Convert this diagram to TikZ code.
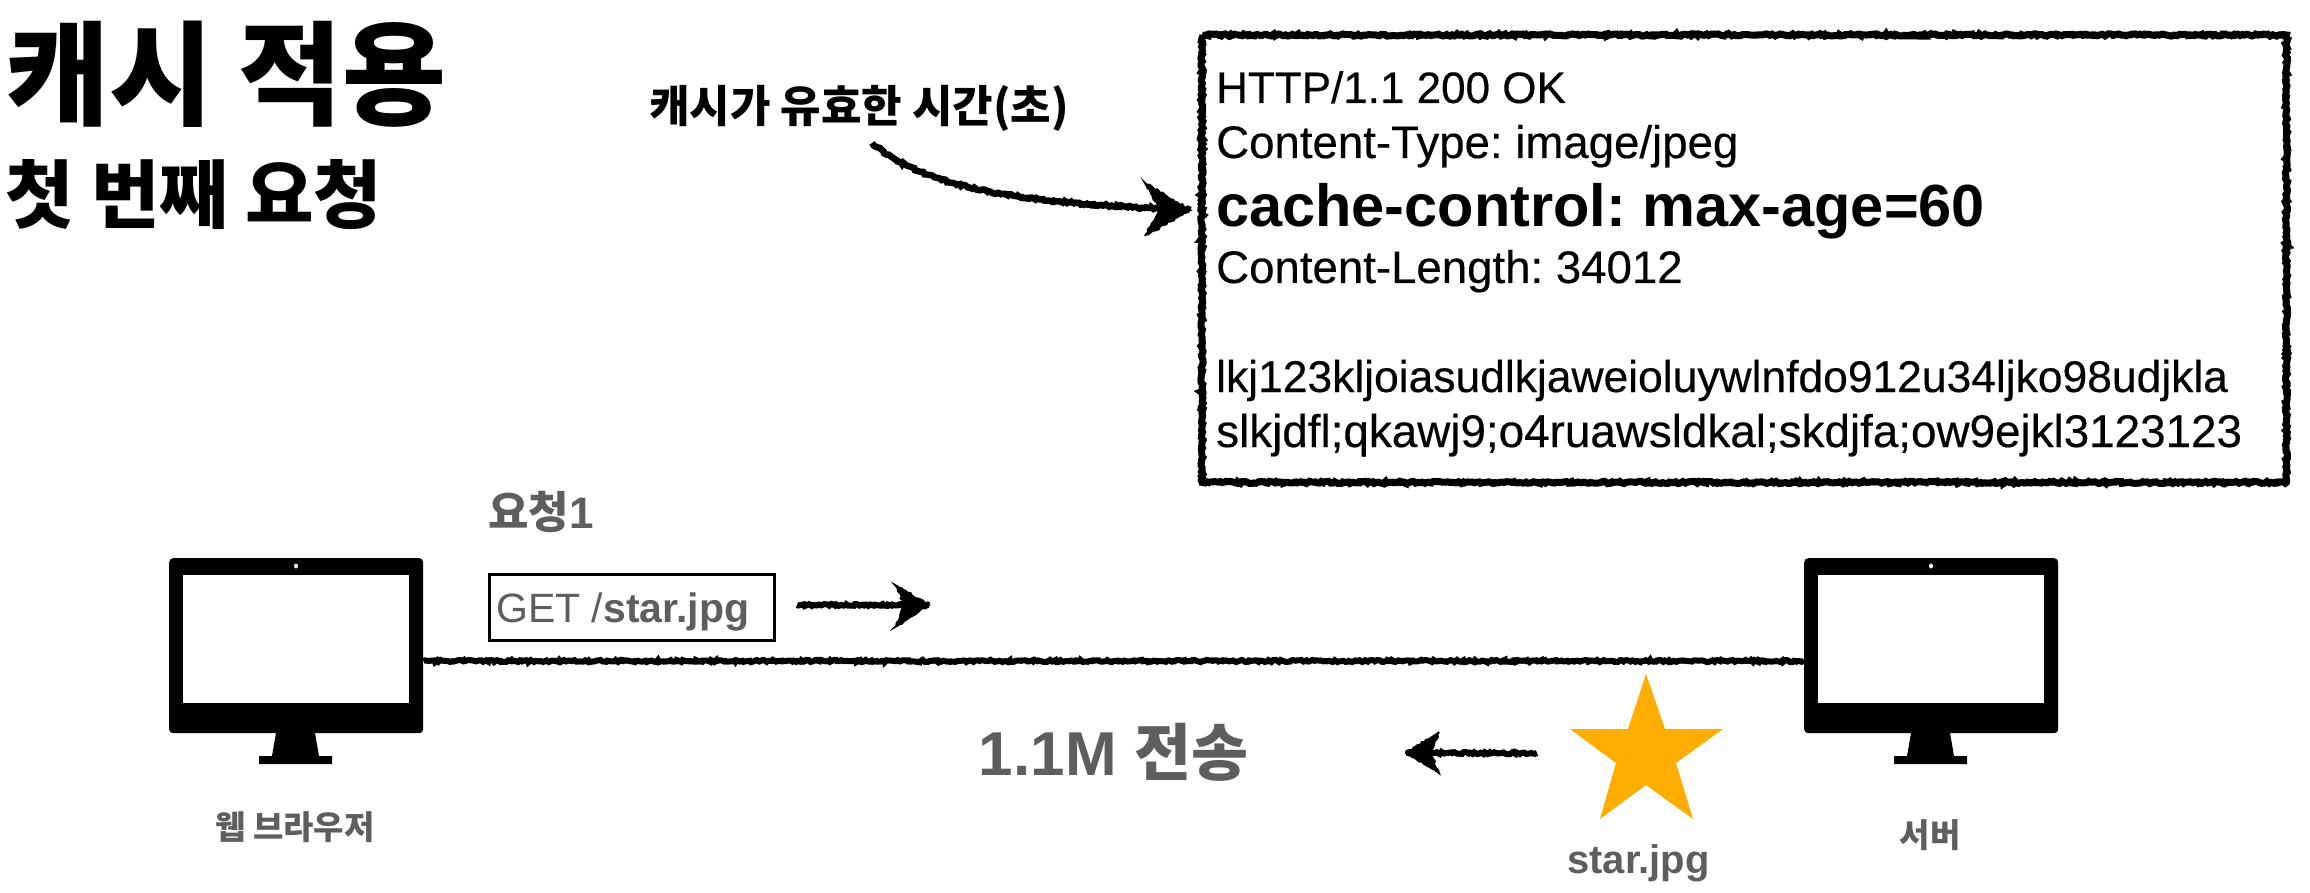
\documentclass[tikz,border=0pt]{standalone}
\usepackage{fontspec}
\setmainfont{Liberation Sans}
\newfontfamily\kr{Noto Sans CJK KR}
\newfontfamily\heavyreg{Liberation Sans}[FakeBold=0.35]
\frenchspacing
\usetikzlibrary{decorations.pathmorphing}
\definecolor{txtgray}{HTML}{5E5E5E}
\definecolor{staryellow}{HTML}{FFAE00}
\newcommand{\fs}[1]{\fontsize{#1}{#1}\selectfont}
\tikzset{
  x=1pt,y=-1pt,
  rough/.style={draw=black,line width=#1,decorate,decoration={random steps,segment length=2pt,amplitude=1.1pt}},
  rough/.default=5pt,
  roughhead/.style={fill=black,draw=black,line width=2pt,line join=miter,decorate,decoration={random steps,segment length=2.5pt,amplitude=1.1pt}},
  monbody/.style={fill=black,rounded corners=4pt,minimum width=254pt,minimum height=175pt,inner sep=0pt,anchor=north west},
  monscreen/.style={fill=white,minimum width=226pt,minimum height=128pt,inner sep=0pt},
  lbl/.style={inner sep=0pt,anchor=base west,text=black},
  glbl/.style={inner sep=0pt,text=txtgray,font=\kr\bfseries},
}
\pgfmathsetseed{42}
\begin{document}
\begin{tikzpicture}
\useasboundingbox (0,0) rectangle (2310,893);
% titles
\node[inner sep=0pt,anchor=center,font={\kr\bfseries\fs{113}}] (title) at (226,74) {캐시 적용};
\node[inner sep=0pt,anchor=center,font={\kr\bfseries\fs{74.5}},align=left] (subtitle) at (194,195) {첫 번째 요청};
\node[inner sep=0pt,anchor=center,font={\kr\bfseries\fs{44}}] (note) at (859,108) {캐시가 유효한 시간(초)};
% response box
\node[inner sep=0pt,minimum width=1084pt,minimum height=447pt,anchor=north west] (resp) at (1202,35) {};
\draw[rough=7pt] (resp.north west) -- (resp.north east) -- (resp.south east) -- (resp.south west) -- cycle;
\node[lbl,font=\heavyreg\fs{44}] (l1) at (1216,103) {HTTP/1.1 200 OK};
\node[lbl,font=\heavyreg\fs{45.6}] (l2) at (1216,158) {Content-Type: image/jpeg};
\node[lbl,font=\bfseries\fs{59.5}] (l3) at (1216,227) {cache-control: max-age=60};
\node[lbl,font=\heavyreg\fs{45.6}] (l4) at (1216,283) {Content-Length: 34012};
\node[lbl,font=\heavyreg\fs{44.4}] (l5) at (1216,392) {lkj123kljoiasudlkjaweioluywlnfdo912u34ljko98udjkla};
\node[lbl,font=\heavyreg\fs{45.8}] (l6) at (1216,447) {slkjdfl;qkawj9;o4ruawsldkal;skdjfa;ow9ejkl3123123};
% curved arrow
\coordinate (ctail) at (872,143);
\coordinate (ctip) at (1190,210);
\draw[rough=6.5pt] (ctail) .. controls (930,192) and (1030,203) .. (ctip);
\draw[roughhead] (1145,183) -- (ctip) -- (1145,236) -- (1160,209) -- cycle;
% browser
\node[monbody] (browser) at (169,558) {};
\node[monscreen] (bscreen) at (296,639) {};
\fill[white] (296,566) ellipse (2pt and 2.5pt);
\fill[black] (276,733) -- (315,733) -- (319,756) -- (332,756) -- (332,764) -- (259,764) -- (259,756) -- (272,756) -- cycle;
\node[glbl,font=\kr\bfseries\fs{33}] (blabel) at (295,827) {웹 브라우저};
% server
\node[monbody] (server) at (1804,558) {};
\node[monscreen] (sscreen) at (1931,639) {};
\fill[white] (1931,566) ellipse (2pt and 2.5pt);
\fill[black] (1911,733) -- (1950,733) -- (1954,756) -- (1967,756) -- (1967,764) -- (1894,764) -- (1894,756) -- (1907,756) -- cycle;
\node[glbl,font=\kr\bfseries\fs{33}] (slabel) at (1930,835) {서버};
% wire
\coordinate (wire) at (0,661);
\draw[rough=6pt] (browser.east |- wire) -- (server.west |- wire);
% request
\node[glbl,font=\kr\bfseries\fs{44}] (req) at (541,512) {요청\fontspec{Liberation Sans}\bfseries 1};
\node[draw=black,line width=3pt,fill=white,minimum width=285pt,minimum height=66pt,inner sep=0pt,anchor=north west] (getbox) at (488,573) {};
\node[lbl,text=txtgray,font=\fs{41}] (gettext) at (496,622) {GET /\textbf{star.jpg}};
\coordinate (rtail) at (797,605);
\coordinate (rtip) at (929,605);
\draw[rough=6pt] (rtail) -- (rtip);
\draw[roughhead] (895,585) -- (rtip) -- (895,627) -- (905,605) -- cycle;
% transfer
\node[glbl,font=\kr\bfseries\fs{62}] (size) at (1113.5,752) {\fontspec{Liberation Sans}\bfseries 1.1M \kr\bfseries 전송};
\coordinate (ltail) at (1537,753);
\coordinate (ltip) at (1406,753);
\draw[rough=6pt] (ltail) -- (ltip);
\draw[roughhead] (1439,732) -- (ltip) -- (1439,773) -- (1430,753) -- cycle;
% star
\fill[staryellow] (1646,674) -- (1665,729) -- (1723,729) -- (1676,763) -- (1693,819) -- (1646,785) -- (1600,819) -- (1616,763) -- (1570,729) -- (1628,729) -- cycle;
\node[lbl,text=txtgray,font=\bfseries\fs{40}] (starlabel) at (1567,873) {star.jpg};
\end{tikzpicture}
\end{document}
